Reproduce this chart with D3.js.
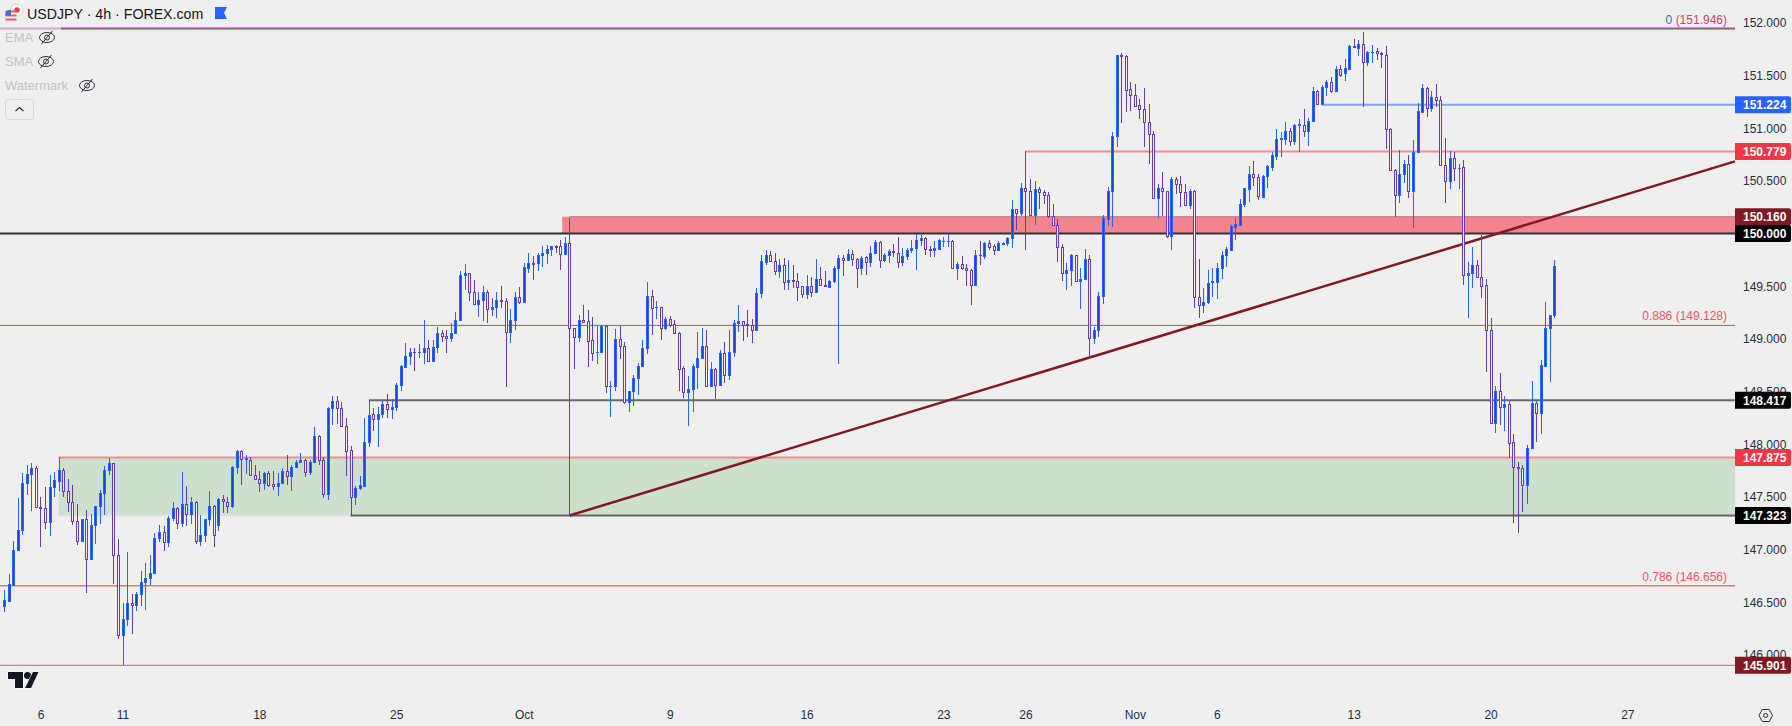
<!DOCTYPE html>
<meta charset="utf-8">
<script src="https://d3js.org/d3.v7.min.js"></script>
<style>
  html, body { margin: 0; padding: 0; background: #efefef; overflow: hidden; }
  svg { display: block; font-family: "Liberation Sans", Arial, sans-serif; }
  .axis text { font-size: 12px; fill: #2a2e39; font-family: "Liberation Sans", Arial, sans-serif; }
</style>
<body>
<div id="my_dataviz"></div>
</body>
<script>

// 4h USDJPY candles, one entry per bar
var opens = [
  146.46,146.51,146.66,147.00,147.19,147.63,147.72,147.77,147.40,147.39,
  147.26,147.59,147.65,147.76,147.56,147.45,147.27,147.08,147.29,146.91,
  147.23,147.41,147.54,147.76,147.82,146.95,146.19,146.34,146.49,146.47,
  146.58,146.69,146.73,146.78,147.11,147.17,147.07,147.30,147.39,147.25,
  147.43,147.34,147.45,147.08,147.14,147.29,147.41,147.23,147.48,147.45,
  147.41,147.78,147.94,147.86,147.85,147.71,147.67,147.63,147.73,147.62,
  147.60,147.63,147.75,147.70,147.78,147.83,147.85,147.74,147.83,148.08,
  147.85,147.53,148.34,148.41,148.34,148.17,147.95,147.50,147.58,147.60,
  148.02,148.29,148.24,148.29,148.38,148.33,148.35,148.56,148.73,148.84,
  148.88,148.88,148.88,148.91,148.79,148.92,149.06,149.03,149.01,149.06,
  149.18,149.61,149.63,149.45,149.33,149.37,149.45,149.28,149.30,149.37,
  149.36,149.07,149.18,149.40,149.35,149.67,149.72,149.72,149.80,149.82,
  149.85,149.88,149.88,149.81,149.91,149.10,149.02,149.18,149.17,148.99,
  148.88,148.88,149.12,148.55,148.55,149.00,148.93,148.40,148.51,148.63,
  148.74,148.91,149.41,149.30,149.30,149.10,149.19,149.14,149.06,148.72,
  148.50,148.52,148.73,148.82,148.93,148.55,148.71,148.56,148.87,148.66,
  148.88,149.15,149.17,149.14,149.13,149.08,149.44,149.73,149.80,149.74,
  149.64,149.70,149.54,149.56,149.55,149.50,149.43,149.50,149.45,149.57,
  149.51,149.49,149.55,149.67,149.77,149.75,149.81,149.76,149.67,149.78,
  149.73,149.82,149.92,149.75,149.80,149.83,149.82,149.73,149.79,149.84,
  149.86,149.94,149.96,149.85,149.84,149.85,149.93,149.93,149.93,149.67,
  149.71,149.67,149.65,149.51,149.80,149.79,149.91,149.88,149.84,149.90,
  149.91,149.96,150.23,150.20,150.43,150.40,150.18,150.42,150.39,150.37,
  150.17,150.08,149.87,149.63,149.65,149.80,149.55,149.57,149.76,149.01,
  149.08,149.41,150.14,150.40,150.93,151.70,151.69,151.37,151.32,151.22,
  151.18,151.06,150.95,150.34,150.43,150.40,149.98,150.52,150.47,150.39,
  150.27,150.40,149.40,149.32,149.35,149.54,149.54,149.67,149.80,149.84,
  150.06,150.08,150.28,150.42,150.57,150.54,150.35,150.55,150.63,150.74,
  150.90,150.90,150.97,150.88,151.03,151.03,150.97,151.07,151.35,151.23,
  151.39,151.44,151.35,151.56,151.52,151.56,151.78,151.76,151.80,151.63,
  151.72,151.73,151.71,151.70,150.99,150.60,150.37,150.57,150.66,150.40,
  150.77,151.15,151.38,151.19,151.30,151.27,150.65,150.50,150.72,150.62,
  150.63,149.61,149.63,149.70,149.59,149.51,149.08,148.20,148.51,148.35,
  148.38,148.02,147.78,147.77,147.61,147.96,148.39,148.30,148.74,149.10,
  149.23
];
var highs = [
  146.62,146.77,147.08,147.49,147.73,147.80,147.82,147.79,147.50,147.59,
  147.71,147.74,147.88,147.77,147.67,147.61,147.43,147.29,147.38,147.34,
  147.41,147.57,147.79,147.87,147.82,147.10,146.49,146.98,146.58,146.60,
  146.80,146.87,146.95,147.16,147.23,147.22,147.32,147.45,147.40,147.74,
  147.60,147.50,147.46,147.33,147.29,147.56,147.42,147.49,147.52,147.50,
  147.79,147.95,147.95,147.90,147.88,147.80,147.75,147.74,147.75,147.75,
  147.73,147.77,147.90,147.80,147.85,147.92,147.86,147.85,148.16,148.09,
  147.88,148.35,148.46,148.46,148.40,148.25,147.98,147.60,147.70,148.25,
  148.42,148.34,148.35,148.42,148.48,148.43,148.58,148.75,148.96,148.91,
  148.91,148.95,149.18,148.99,148.99,149.11,149.08,149.08,149.15,149.26,
  149.64,149.71,149.63,149.56,149.45,149.50,149.46,149.39,149.45,149.50,
  149.39,149.28,149.45,149.49,149.72,149.82,149.79,149.82,149.88,149.89,
  149.88,149.89,149.94,149.97,150.15,149.10,149.23,149.32,149.27,149.21,
  149.13,149.13,149.13,148.60,149.09,149.12,148.97,148.51,148.66,148.77,
  148.99,149.54,149.46,149.36,149.30,149.21,149.22,149.18,149.07,148.74,
  148.65,148.76,149.07,149.10,149.08,148.78,148.72,148.89,148.97,149.08,
  149.18,149.32,149.17,149.27,149.19,149.48,149.80,149.84,149.83,149.82,
  149.76,149.77,149.75,149.70,149.63,149.50,149.61,149.59,149.76,149.68,
  149.64,149.56,149.69,149.80,149.80,149.85,149.84,149.77,149.79,149.79,
  149.88,149.94,149.93,149.82,149.85,149.90,149.97,149.86,149.86,149.94,
  150.00,149.99,149.97,149.88,149.93,149.95,149.97,150.00,149.94,149.73,
  149.79,149.71,149.66,149.84,149.93,149.92,149.94,149.90,149.93,149.92,
  149.97,150.32,150.23,150.48,150.78,150.52,150.50,150.44,150.41,150.39,
  150.28,150.14,149.90,149.72,149.81,149.80,149.67,149.85,149.80,149.11,
  149.45,150.18,150.44,150.96,151.70,151.71,151.70,151.44,151.42,151.28,
  151.38,151.23,150.97,150.47,150.58,150.40,150.54,150.54,150.55,150.47,
  150.42,150.41,149.76,149.48,149.65,149.67,149.72,149.83,149.87,150.08,
  150.15,150.33,150.43,150.64,150.69,150.57,150.56,150.65,150.77,150.99,
  150.96,151.06,151.00,151.04,151.09,151.18,151.10,151.39,151.36,151.41,
  151.46,151.49,151.59,151.60,151.66,151.79,151.85,151.84,151.91,151.73,
  151.79,151.76,151.72,151.78,151.00,150.61,150.79,150.70,150.75,150.89,
  151.24,151.42,151.39,151.35,151.42,151.31,150.91,150.78,150.77,150.66,
  150.70,149.73,149.87,149.75,149.99,149.57,149.20,148.55,148.68,148.46,
  148.41,148.10,147.83,147.80,147.99,148.60,148.41,148.80,149.35,149.23,
  149.75
];
var lows = [
  146.41,146.50,146.66,147.00,147.14,147.52,147.37,147.40,147.02,147.20,
  147.13,147.50,147.56,147.50,147.36,147.23,147.04,147.08,146.59,146.91,
  147.05,147.24,147.33,147.71,146.67,146.15,145.90,146.27,146.20,146.42,
  146.46,146.43,146.66,146.77,147.07,146.99,147.02,147.27,147.20,147.21,
  147.22,147.24,147.05,147.03,147.07,147.22,147.02,147.18,147.35,147.35,
  147.39,147.72,147.61,147.72,147.70,147.66,147.55,147.57,147.59,147.57,
  147.51,147.63,147.61,147.56,147.77,147.82,147.69,147.71,147.82,147.80,
  147.49,147.47,148.18,148.19,148.16,147.70,147.32,147.42,147.57,147.60,
  147.97,148.13,147.97,148.25,148.25,148.24,148.32,148.51,148.73,148.75,
  148.70,148.82,148.76,148.79,148.79,148.87,148.97,148.87,148.97,149.06,
  149.17,149.46,149.36,149.33,149.21,149.17,149.15,149.22,149.20,149.29,
  148.54,148.96,149.08,149.33,149.35,149.63,149.56,149.64,149.68,149.71,
  149.79,149.82,149.65,149.81,147.32,148.71,148.97,149.15,148.73,148.79,
  148.76,148.88,148.49,148.26,148.51,148.81,148.38,148.31,148.36,148.47,
  148.74,148.86,149.04,149.19,148.99,149.08,149.11,149.06,148.51,148.44,
  148.17,148.31,148.52,148.82,148.55,148.55,148.43,148.55,148.58,148.61,
  148.83,149.07,148.98,149.02,148.96,149.08,149.39,149.70,149.73,149.61,
  149.58,149.46,149.46,149.48,149.36,149.39,149.38,149.40,149.44,149.50,
  149.49,149.49,149.53,148.76,149.60,149.75,149.69,149.48,149.61,149.61,
  149.68,149.82,149.67,149.73,149.72,149.78,149.67,149.69,149.75,149.82,
  149.65,149.88,149.80,149.78,149.78,149.85,149.87,149.87,149.67,149.56,
  149.65,149.50,149.32,149.51,149.70,149.76,149.84,149.80,149.83,149.90,
  149.88,149.86,150.03,150.17,149.84,150.17,150.08,150.23,150.28,150.15,
  150.08,149.73,149.55,149.46,149.50,149.54,149.28,149.56,148.81,148.95,
  149.02,149.33,150.07,150.06,150.82,151.05,151.15,151.16,151.20,151.09,
  150.82,150.66,150.34,150.15,150.17,149.96,149.84,150.38,150.25,150.27,
  150.23,149.29,149.20,149.25,149.33,149.40,149.38,149.57,149.68,149.83,
  149.94,150.07,150.25,150.30,150.45,150.32,150.35,150.43,150.59,150.70,
  150.73,150.84,150.83,150.84,150.77,150.92,150.83,151.06,151.23,151.22,
  151.31,151.33,151.35,151.49,151.45,151.55,151.77,151.69,151.20,151.59,
  151.62,151.65,151.57,150.80,150.60,150.16,150.29,150.48,150.34,150.05,
  150.77,151.14,151.11,151.15,151.20,150.64,150.29,150.42,150.50,150.42,
  149.51,149.20,149.48,149.59,149.39,148.69,148.20,148.11,148.18,148.13,
  147.87,147.25,147.16,147.36,147.43,147.96,148.02,148.10,148.73,148.59,
  149.20
];
var closes = [
  146.52,146.67,147.00,147.19,147.63,147.72,147.77,147.40,147.395,147.26,
  147.59,147.66,147.76,147.56,147.45,147.27,147.08,147.29,146.91,147.23,
  147.41,147.54,147.76,147.82,146.95,146.19,146.34,146.49,146.47,146.58,
  146.69,146.73,146.78,147.11,147.17,147.07,147.30,147.39,147.25,147.43,
  147.34,147.45,147.08,147.14,147.29,147.41,147.14,147.48,147.46,147.41,
  147.78,147.94,147.86,147.87,147.71,147.67,147.63,147.73,147.61,147.60,
  147.63,147.75,147.70,147.78,147.83,147.85,147.74,147.83,148.08,147.85,
  147.53,148.34,148.41,148.34,148.17,147.94,147.50,147.58,147.61,148.02,
  148.28,148.24,148.29,148.38,148.33,148.35,148.56,148.74,148.84,148.88,
  148.875,148.88,148.91,148.79,148.92,149.06,149.03,149.01,149.06,149.18,
  149.61,149.63,149.45,149.33,149.37,149.45,149.28,149.30,149.37,149.36,
  149.07,149.18,149.40,149.35,149.68,149.72,149.715,149.80,149.82,149.85,
  149.88,149.87,149.81,149.91,149.10,149.02,149.18,149.16,148.98,148.87,
  148.88,149.12,148.55,148.555,149.00,148.93,148.40,148.51,148.63,148.74,
  148.91,149.41,149.29,149.30,149.10,149.19,149.13,149.06,148.71,148.50,
  148.52,148.74,148.82,148.93,148.55,148.71,148.56,148.87,148.66,148.88,
  149.15,149.17,149.13,149.13,149.08,149.44,149.74,149.80,149.74,149.64,
  149.70,149.54,149.56,149.55,149.49,149.43,149.50,149.45,149.57,149.51,
  149.50,149.545,149.67,149.77,149.75,149.81,149.76,149.67,149.77,149.73,
  149.82,149.92,149.75,149.80,149.83,149.825,149.73,149.79,149.84,149.86,
  149.94,149.96,149.85,149.84,149.86,149.94,149.93,149.93,149.67,149.71,
  149.67,149.65,149.51,149.80,149.795,149.91,149.87,149.84,149.91,149.91,
  149.96,150.23,150.20,150.43,150.40,150.18,150.42,150.39,150.37,150.17,
  150.08,149.87,149.63,149.65,149.80,149.55,149.57,149.76,149.01,149.08,
  149.41,150.15,150.40,150.93,151.70,151.69,151.36,151.32,151.21,151.18,
  151.06,150.95,150.34,150.43,150.40,149.98,150.52,150.47,150.39,150.27,
  150.40,149.40,149.32,149.35,149.53,149.55,149.67,149.80,149.85,150.07,
  150.09,150.28,150.43,150.57,150.54,150.36,150.55,150.64,150.75,150.90,
  150.91,150.97,150.88,151.03,151.04,150.97,151.07,151.35,151.23,151.39,
  151.44,151.35,151.56,151.51,151.57,151.78,151.775,151.80,151.63,151.72,
  151.72,151.71,151.705,150.99,150.60,150.37,150.57,150.66,150.40,150.77,
  151.16,151.38,151.19,151.30,151.27,150.65,150.50,150.72,150.62,150.62,
  149.61,149.63,149.70,149.59,149.50,149.08,148.20,148.51,148.35,148.38,
  148.01,147.78,147.77,147.61,147.96,148.39,148.30,148.75,149.10,149.23,
  149.69
];

// axis labels
var priceTicks = [152, 151.5, 151, 150.5, 150, 149.5, 149, 148.5, 148, 147.5, 147, 146.5, 146];
var timeTickBars = [8, 26, 56, 86, 114, 146, 176, 206, 224, 248, 266, 296, 326, 356];
var timeTickLabels = ["6", "11", "18", "25", "Oct", "9", "16", "23", "26", "Nov", "6", "13", "20", "27"];

// drawn levels
var tagPrices = [151.224, 150.779, 150.160, 150.000, 148.417, 147.875, 147.323, 145.901];
var tagKinds = ["blue", "red", "maroon", "black", "black", "red", "black", "maroon"];
var fibRatios = ["0.886", "0.786"];
var fibPrices = [149.128, 146.656];
var topFibPrice = 151.946;
var lowPrice = 145.901;
var supplyZone = [150.16, 150.00];
var demandZone = [147.875, 147.323];
var trendBars = [124, 379.6];
var trendPrices = [147.323, 150.685];

var width = 1792, height = 726;
var plotRight = 1735;

var tagColor = { blue: "#2962ff", red: "#f23645", maroon: "#801922", black: "#000000" };

var svg = d3.select("#my_dataviz")
  .append("svg")
    .attr("width", width)
    .attr("height", height);

svg.append("rect").attr("width", width).attr("height", height).attr("fill", "#efefef");

var x = d3.scaleLinear().domain([0, 340]).range([4, 1554.4]);
var y = d3.scaleLinear().domain([152, 146]).range([22.9, 654.9]);

function hLine(price, fromBar, color, w) {
  svg.append("line")
    .attr("x1", fromBar == null ? 0 : x(fromBar))
    .attr("x2", plotRight)
    .attr("y1", y(price))
    .attr("y2", y(price))
    .attr("stroke", color)
    .attr("stroke-width", w);
}

// zones
svg.append("rect")
  .attr("x", x(122.4))
  .attr("y", y(supplyZone[0]))
  .attr("width", plotRight - x(122.4))
  .attr("height", y(supplyZone[1]) - y(supplyZone[0]))
  .attr("fill", "#f3848e");
svg.append("rect")
  .attr("x", x(12))
  .attr("y", y(demandZone[0]))
  .attr("width", plotRight - x(12))
  .attr("height", y(demandZone[1]) - y(demandZone[0]))
  .attr("fill", "#cde0cd");

// levels
hLine(demandZone[1], 12, "#e4dedd", 2);
hLine(demandZone[1], 76, "#666666", 2);
hLine(demandZone[0], 12, "#f28b93", 2);
hLine(148.417, 80, "#666666", 2);
hLine(150.16, 124, "#b07c80", 1);
hLine(150.00, null, "#333333", 2);
hLine(fibPrices[0], null, "#e0444c", 1);
hLine(fibPrices[1], null, "#f23645", 1);
hLine(lowPrice, null, "#a87477", 1);
hLine(150.779, 224, "#f28b93", 2);
hLine(151.224, 289, "#82a5f7", 2);

// fib 0 is two overlaid tools, blue over red
svg.append("line").attr("x1", 0).attr("x2", plotRight)
  .attr("y1", y(topFibPrice) - 0.5).attr("y2", y(topFibPrice) - 0.5)
  .attr("stroke", "#1c3fa8").attr("stroke-width", 1);
svg.append("line").attr("x1", 0).attr("x2", plotRight)
  .attr("y1", y(topFibPrice) + 0.5).attr("y2", y(topFibPrice) + 0.5)
  .attr("stroke", "#e0344c").attr("stroke-width", 1);

// trend line
svg.append("line")
  .attr("x1", x(trendBars[0])).attr("y1", y(trendPrices[0]))
  .attr("x2", x(trendBars[1])).attr("y2", y(trendPrices[1]))
  .attr("stroke", "#801922")
  .attr("stroke-width", 2.5);

// candles
var bars = d3.range(opens.length);
var candles = svg.append("g").attr("shape-rendering", "crispEdges");

bars.forEach(function(i) {
  var up = closes[i] >= opens[i];
  var cx = Math.round(x(i));
  var top = Math.round(y(Math.max(opens[i], closes[i])));
  var bot = Math.round(y(Math.min(opens[i], closes[i])));

  candles.append("rect")
    .attr("x", cx)
    .attr("y", Math.round(y(highs[i])))
    .attr("width", 1)
    .attr("height", Math.max(1, Math.round(y(lows[i])) - Math.round(y(highs[i]))))
    .attr("fill", up ? "#2962ff" : "#673ab7");

  if (bot == top) {
    candles.append("rect")
      .attr("x", cx - 1)
      .attr("y", top)
      .attr("width", 3)
      .attr("height", 1)
      .attr("fill", up ? "#2962ff" : "#673ab7");
  } else {
    candles.append("rect")
      .attr("x", cx - 0.5)
      .attr("y", top + 0.5)
      .attr("width", 2)
      .attr("height", bot - top)
      .attr("fill", up ? "#1848cc" : "#efefef")
      .attr("stroke", up ? "#2962ff" : "#673ab7")
      .attr("stroke-width", 1);
  }
});

// fib labels
var fibText = svg.append("text")
  .attr("x", 1727)
  .attr("y", y(topFibPrice) - 5)
  .attr("text-anchor", "end")
  .style("font-size", "12px");
fibText.append("tspan").attr("fill", "#4a5fb0").text("0 ");
fibText.append("tspan").attr("fill", "#c7486b").text("(" + d3.format(".3f")(topFibPrice) + ")");

svg.selectAll(".fibLabel")
  .data(fibPrices)
  .enter()
  .append("text")
    .attr("class", "fibLabel")
    .attr("x", 1727)
    .attr("y", function(d) { return y(d) - 5; })
    .attr("text-anchor", "end")
    .attr("fill", "#f4525f")
    .style("font-size", "12px")
    .text(function(d, i) { return fibRatios[i] + " (" + d3.format(".3f")(d) + ")"; });

// price axis
var yAxis = svg.append("g")
  .attr("class", "axis")
  .attr("transform", "translate(" + plotRight + ",0)")
  .call(d3.axisRight(y).tickValues(priceTicks).tickSize(0).tickPadding(8).tickFormat(d3.format(".3f")));
yAxis.select(".domain").remove();

// time axis
var xAxis = svg.append("g")
  .attr("class", "axis")
  .attr("transform", "translate(0,700)")
  .call(d3.axisBottom(x).tickValues(timeTickBars).tickSize(0).tickPadding(10)
    .tickFormat(function(d, i) { return timeTickLabels[i]; }));
xAxis.select(".domain").remove();

// price tags
var tags = svg.selectAll(".tag")
  .data(tagPrices)
  .enter()
  .append("g")
    .attr("class", "tag")
    .attr("transform", function(d) { return "translate(" + plotRight + "," + y(d) + ")"; });
tags.append("path")
  .attr("d", "M0,-8.5H54a2,2 0 0 1 2,2V6.5a2,2 0 0 1 -2,2H0Z")
  .attr("fill", function(d, i) { return tagColor[tagKinds[i]]; });
tags.append("text")
  .attr("x", 8)
  .attr("y", 4.5)
  .attr("fill", "#ffffff")
  .style("font-size", "12px")
  .style("font-weight", "700")
  .text(function(d) { return d3.format(".3f")(d); });

// pale backing behind the legend rows
svg.append("rect").attr("x", 0).attr("y", 25).attr("width", 61).attr("height", 8)
  .attr("fill", "#efefef").attr("opacity", 0.6);

// title row
svg.append("text")
  .attr("x", 27)
  .attr("y", 18.5)
  .attr("fill", "#131722")
  .style("font-size", "14.2px")
  .text("USDJPY · 4h · FOREX.com");
svg.append("path")
  .attr("d", "M215,7H227L224,13L227,19H215Z")
  .attr("fill", "#2962ff");

// flags
svg.append("circle").attr("cx", 17).attr("cy", 10).attr("r", 6).attr("fill", "#ffffff").attr("stroke", "#d8d8dc");
svg.append("circle").attr("cx", 17).attr("cy", 10).attr("r", 2.8).attr("fill", "#f23645");
svg.append("circle").attr("cx", 11).attr("cy", 15.5).attr("r", 6).attr("fill", "#ffffff").attr("stroke", "#efefef").attr("stroke-width", 1);
[11.5, 15.5, 19.5].forEach(function(sy) {
  svg.append("rect").attr("x", 5.5).attr("y", sy - 1).attr("width", 11).attr("height", 2).attr("fill", "#f2545f");
});
svg.append("path").attr("d", "M5,15.5A6,6 0 0 1 11,9.5V15.5Z").attr("fill", "#3f6fd8");

// legend rows
var rowLabels = ["EMA", "SMA", "Watermark"];
var rowEyeX = [47, 46, 87];
rowLabels.forEach(function(label, i) {
  var ry = 37.5 + i * 24;
  svg.append("text")
    .attr("x", 5)
    .attr("y", ry + 4.5)
    .attr("fill", "#c1c3ca")
    .style("font-size", "13px")
    .text(label);
  var eye = svg.append("g")
    .attr("transform", "translate(" + rowEyeX[i] + "," + ry + ")")
    .attr("fill", "none")
    .attr("stroke", "#2a2e39")
    .attr("stroke-width", 1);
  eye.append("ellipse").attr("rx", 7.5).attr("ry", 5);
  eye.append("circle").attr("r", 2.5);
  eye.append("line").attr("x1", -5.5).attr("y1", 6.5).attr("x2", 5.5).attr("y2", -6.5);
});

// collapse button
svg.append("rect")
  .attr("x", 5.5).attr("y", 99.5).attr("width", 28).attr("height", 20).attr("rx", 3)
  .attr("fill", "none").attr("stroke", "#d5d7dd");
svg.append("path")
  .attr("d", "M15.5,111L19.5,107.5L23.5,111")
  .attr("fill", "none").attr("stroke", "#2a2e39").attr("stroke-width", 1.2);

// logo
var logo = svg.append("g").attr("fill", "#131722").attr("stroke", "#ffffff").attr("stroke-width", 1).attr("paint-order", "stroke");
logo.append("path").attr("d", "M8,672H23V688H15V679H8Z");
logo.append("circle").attr("cx", 27.5).attr("cy", 675.5).attr("r", 3.5);
logo.append("path").attr("d", "M33,672H38.5L31,688H25Z");

// settings icon
svg.append("path")
  .attr("d", "M1759,715.5L1762.3,709.5H1769.2L1772.5,715.5L1769.2,721.5H1762.3Z")
  .attr("fill", "none").attr("stroke", "#2a2e39");
svg.append("circle").attr("cx", 1765.7).attr("cy", 715.5).attr("r", 2).attr("fill", "none").attr("stroke", "#2a2e39");

</script>
